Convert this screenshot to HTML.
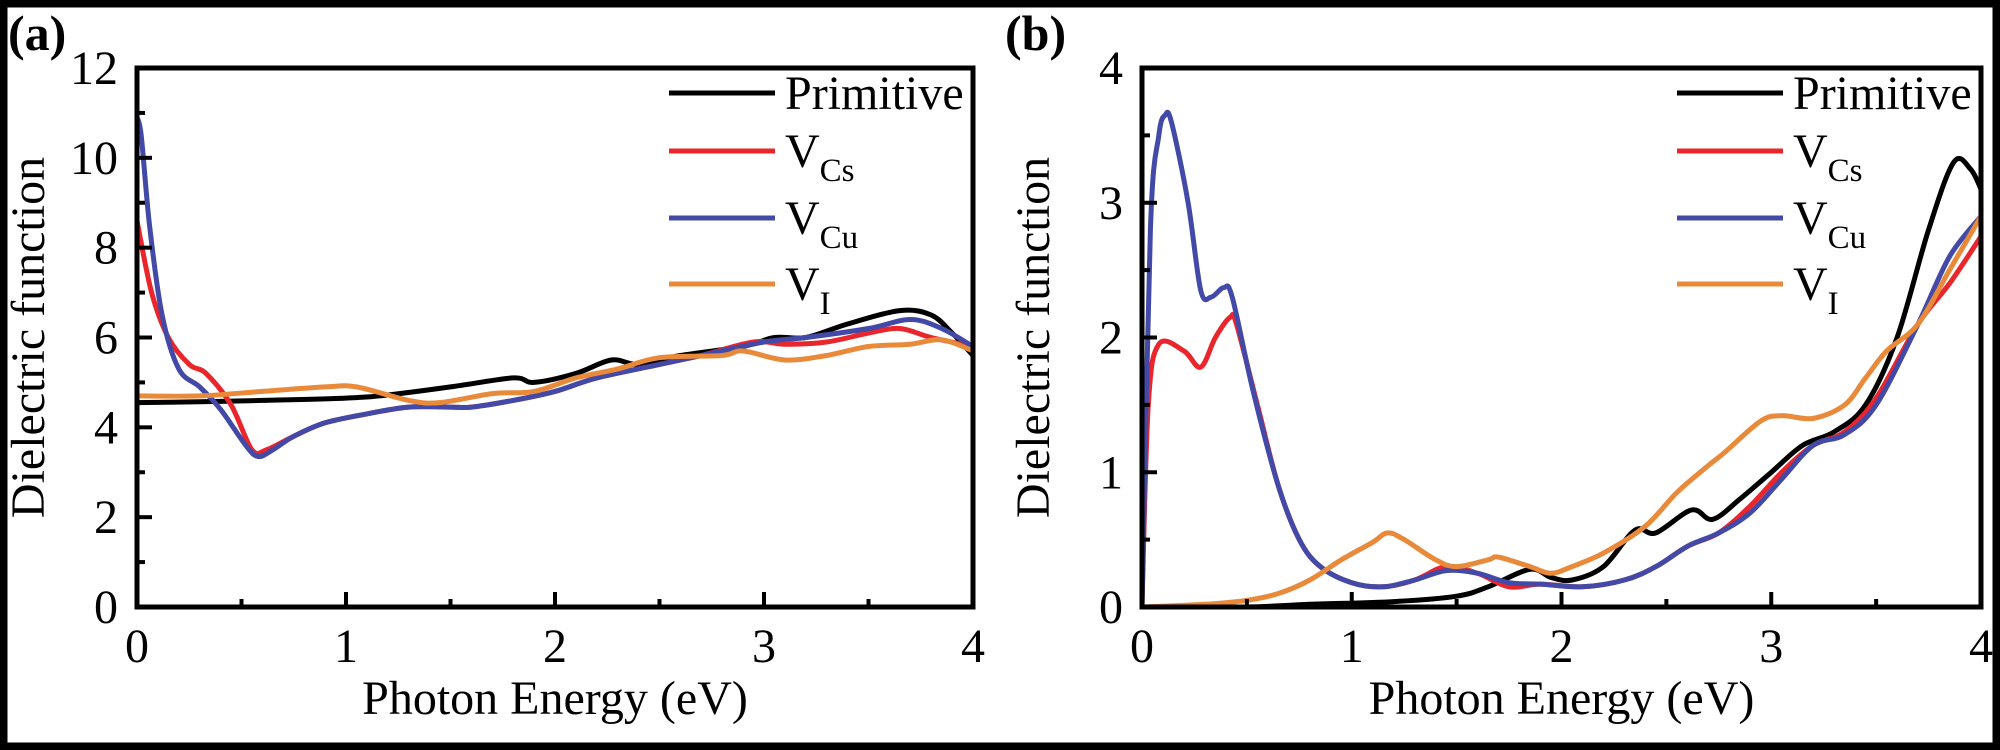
<!DOCTYPE html>
<html><head><meta charset="utf-8"><style>
html,body{margin:0;padding:0;background:#fff}
svg{display:block;font-family:"Liberation Serif","Times New Roman",Times,serif}
svg text{font-family:"Liberation Serif","Times New Roman",Times,serif;fill:#000}
</style></head><body>
<svg id="chart" width="2000" height="750" viewBox="0 0 2000 750" xmlns="http://www.w3.org/2000/svg" font-family="Liberation Serif, Times New Roman, serif">
<rect x="3.5" y="3.5" width="1993" height="743" fill="#fff" stroke="#000" stroke-width="8"/>
</svg>
<script>
// Panel (a) data
const aPrimX=[0,0.3,0.6,1.0,1.2,1.5,1.8,1.9,2.1,2.27,2.4,2.6,2.9,3.05,3.2,3.4,3.65,3.8,3.9,4];
const aPrimY=[4.55,4.57,4.6,4.65,4.72,4.9,5.1,5.0,5.2,5.5,5.4,5.6,5.8,6.0,6.0,6.3,6.6,6.5,6.1,5.6];
const aCsX=[0,0.07,0.15,0.25,0.33,0.45,0.55,0.62,0.75,0.9,1.1,1.3,1.5,1.6,1.8,2.0,2.2,2.5,2.7,2.95,3.1,3.3,3.5,3.65,3.8,4];
const aCsY=[8.6,7.0,6.0,5.4,5.2,4.5,3.5,3.5,3.8,4.1,4.3,4.45,4.45,4.45,4.6,4.8,5.1,5.4,5.6,5.9,5.85,5.9,6.1,6.2,6.0,5.8];
const aCuX=[0,0.02,0.06,0.12,0.2,0.3,0.4,0.52,0.58,0.65,0.75,0.9,1.1,1.3,1.5,1.6,1.8,2.0,2.2,2.5,2.7,3.0,3.2,3.5,3.7,3.85,4];
const aCuY=[10.9,10.5,8.5,6.5,5.3,4.9,4.4,3.6,3.35,3.5,3.8,4.1,4.3,4.45,4.45,4.45,4.6,4.8,5.1,5.4,5.6,5.9,6.0,6.2,6.4,6.2,5.8];
const aIX=[0,0.3,0.6,0.9,1.05,1.3,1.45,1.7,1.9,2.1,2.3,2.5,2.8,2.9,3.1,3.3,3.5,3.7,3.85,4];
const aIY=[4.7,4.7,4.8,4.9,4.9,4.6,4.55,4.75,4.8,5.1,5.3,5.55,5.6,5.7,5.5,5.6,5.8,5.85,5.95,5.7];
// Panel (b) data
const bPrimX=[0,0.5,0.8,1.2,1.5,1.65,1.85,1.95,2.05,2.2,2.35,2.45,2.62,2.72,2.85,3.0,3.15,3.3,3.45,3.6,3.75,3.87,3.95,4];
const bPrimY=[0,0,0.02,0.04,0.08,0.15,0.28,0.22,0.2,0.3,0.57,0.55,0.72,0.65,0.8,1.0,1.2,1.3,1.5,2.0,2.8,3.3,3.25,3.1];
const bCsX=[0,0.03,0.08,0.2,0.28,0.35,0.42,0.45,0.55,0.65,0.75,0.85,1.0,1.15,1.3,1.45,1.6,1.75,1.9,2.1,2.3,2.45,2.6,2.75,2.9,3.05,3.2,3.35,3.5,3.7,3.85,4];
const bCsY=[0,1.5,1.95,1.9,1.78,2.0,2.15,2.1,1.5,0.9,0.5,0.3,0.18,0.15,0.2,0.3,0.25,0.15,0.17,0.15,0.2,0.3,0.45,0.55,0.75,1.0,1.2,1.3,1.55,2.1,2.4,2.75];
const bCuX=[0,0.04,0.08,0.11,0.14,0.22,0.28,0.33,0.39,0.43,0.53,0.65,0.75,0.85,1.0,1.15,1.3,1.45,1.6,1.75,1.9,2.1,2.3,2.45,2.6,2.75,2.9,3.05,3.2,3.35,3.5,3.7,3.85,4];
const bCuY=[0,2.8,3.5,3.65,3.6,3.0,2.35,2.3,2.37,2.3,1.6,0.9,0.5,0.3,0.18,0.15,0.2,0.27,0.25,0.18,0.17,0.15,0.2,0.3,0.45,0.55,0.7,0.95,1.2,1.28,1.5,2.1,2.6,2.9];
const bIX=[0,0.3,0.5,0.65,0.8,0.95,1.1,1.17,1.25,1.4,1.5,1.65,1.7,1.85,1.95,2.05,2.2,2.4,2.55,2.7,2.78,2.95,3.05,3.2,3.35,3.45,3.55,3.7,3.85,4];
const bIY=[0,0.02,0.05,0.1,0.2,0.35,0.48,0.55,0.5,0.35,0.3,0.35,0.37,0.3,0.25,0.3,0.4,0.6,0.85,1.05,1.15,1.38,1.42,1.4,1.5,1.7,1.9,2.1,2.5,2.9];
const yTicksA=[0,2,4,6,8,10,12];
const yTicksB=[0,1,2,3,4];
const xTicks=[0,1,2,3,4];

const NS="http://www.w3.org/2000/svg";
const FONT='"Liberation Serif", "Times New Roman", Times, serif';
const svg=document.getElementById('chart');
function mk(tag,attrs,parent){const e=document.createElementNS(NS,tag);for(const k in attrs)e.setAttribute(k,attrs[k]);if(tag==='text')e.setAttribute('style','font-family:'+FONT);(parent||svg).appendChild(e);return e;}
function smooth(pts){let d="M"+pts[0][0]+","+pts[0][1];for(let i=0;i<pts.length-1;i++){const p0=pts[i-1]||pts[i],p1=pts[i],p2=pts[i+1],p3=pts[i+2]||p2;const c1x=p1[0]+(p2[0]-p0[0])/6,c1y=p1[1]+(p2[1]-p0[1])/6,c2x=p2[0]-(p3[0]-p1[0])/6,c2y=p2[1]-(p3[1]-p1[1])/6;d+=" C"+c1x.toFixed(1)+","+c1y.toFixed(1)+" "+c2x.toFixed(1)+","+c2y.toFixed(1)+" "+p2[0].toFixed(1)+","+p2[1].toFixed(1);}return d;}

function panel(id,L,R,T,B,ymax,yTicks,yMinorStep,series,label,labelX){
  const sx=v=>L+(R-L)*v/4, sy=v=>B-(B-T)*v/ymax;
  const g=mk('g',{});
  
  
  const cp=mk('clipPath',{id:'clip'+id},g);mk('rect',{x:L,y:T,width:R-L,height:B-T},cp);
  const sg=mk('g',{'clip-path':'url(#clip'+id+')'},g);
  series.forEach(s=>{
    const p=mk('path',{d:smooth(s.x.map((v,i)=>[sx(v),sy(s.y[i])])),fill:'none',stroke:s.c,'stroke-width':5,'stroke-linejoin':'round'},sg);
    
    
  });
  const fr=mk('rect',{x:L,y:T,width:R-L,height:B-T,fill:'none',stroke:'#000','stroke-width':5},g);
  
  
  for(let v=0;v<=4;v+=0.5){const maj=Number.isInteger(v);mk('line',{x1:sx(v),x2:sx(v),y1:B,y2:B-(maj?15:8),stroke:'#000','stroke-width':4},g);}
  xTicks.forEach(v=>{const t=mk('text',{x:sx(v),y:662,'font-size':48,'text-anchor':'middle'},g);t.textContent=v;
    });
  for(let v=0;v<=ymax+1e-9;v+=yMinorStep){const maj=yTicks.some(t=>Math.abs(t-v)<1e-9);mk('line',{x1:L,x2:L+(maj?15:8),y1:sy(v),y2:sy(v),stroke:'#000','stroke-width':4},g);}
  yTicks.forEach(v=>{const t=mk('text',{x:L-19,y:sy(v)+16,'font-size':48,'text-anchor':'end'},g);t.textContent=v;
    });
  const xt=mk('text',{x:(L+R)/2,y:714,'font-size':48,'text-anchor':'middle'},g);xt.textContent='Photon Energy (eV)';
  
  const yt=mk('text',{x:0,y:0,'font-size':48,'text-anchor':'middle',transform:'translate('+(L-93)+','+((T+B)/2)+') rotate(-90)'},g);yt.textContent='Dielectric function';
  
  const pl=mk('text',{x:labelX,y:50,'font-size':50,'font-weight':'bold'},g);pl.textContent=label;
  
  const lx=R-304, ys=[93,151,218,284];
  const names=[['Primitive',''],['V','Cs'],['V','Cu'],['V','I']];
  series.forEach((s,i)=>{
    const lg=mk('g',{},g);
    
    
    mk('line',{x1:lx,x2:lx+106,y1:ys[i],y2:ys[i],stroke:s.c,'stroke-width':5},lg);
    const t=mk('text',{x:lx+116,y:ys[i]+16,'font-size':48},lg);
    t.textContent=names[i][0];
    if(names[i][1]){const ts=mk('tspan',{'font-size':33,dy:14},t);ts.textContent=names[i][1];}
  });
}
const colors={p:'#000',cs:'#e8262c',cu:'#4249a6',i:'#e88a3a'};
panel('a',137,973,68,607,12,yTicksA,1,[
 {n:'primitive',c:colors.p,x:aPrimX,y:aPrimY},{n:'v-cs',c:colors.cs,x:aCsX,y:aCsY},
 {n:'v-cu',c:colors.cu,x:aCuX,y:aCuY},{n:'v-i',c:colors.i,x:aIX,y:aIY}],'(a)',8);
panel('b',1142,1981,68,607,4,yTicksB,0.5,[
 {n:'primitive',c:colors.p,x:bPrimX,y:bPrimY},{n:'v-cs',c:colors.cs,x:bCsX,y:bCsY},
 {n:'v-cu',c:colors.cu,x:bCuX,y:bCuY},{n:'v-i',c:colors.i,x:bIX,y:bIY}],'(b)',1005);
</script>
</body></html>
